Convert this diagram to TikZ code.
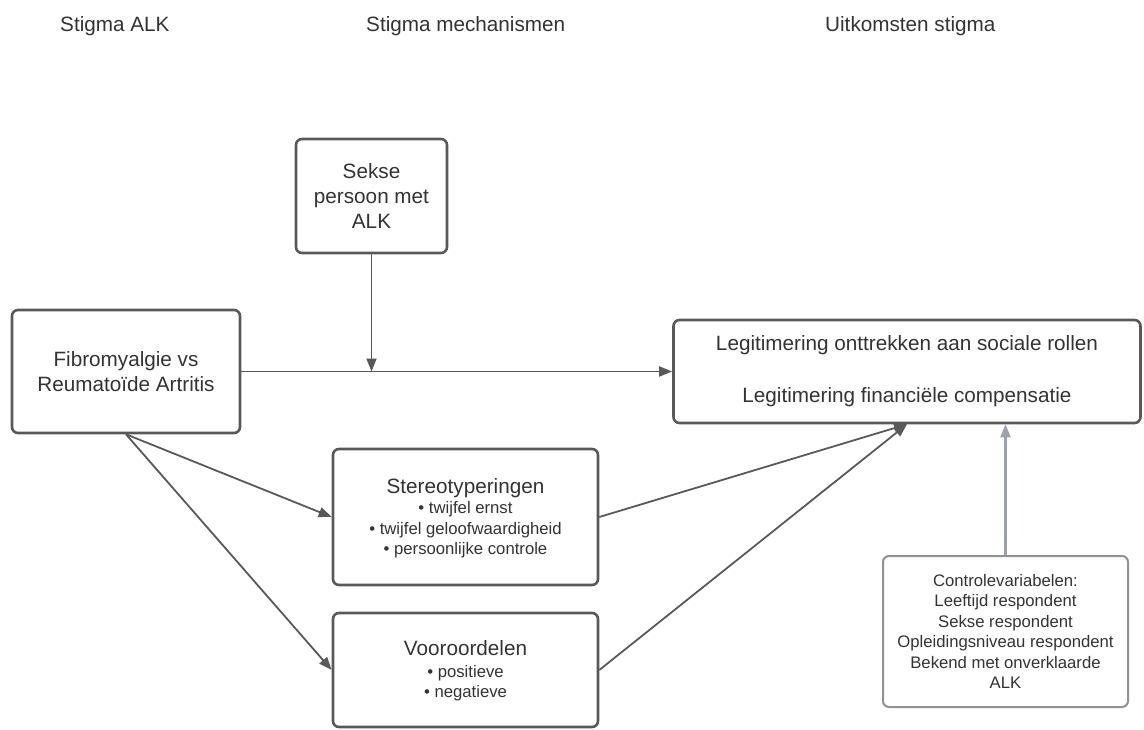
\documentclass[tikz,border=0pt]{standalone}
\usepackage{fontspec}
\setmainfont{Liberation Sans}
\usetikzlibrary{arrows.meta}
\definecolor{txt}{HTML}{333333}
\definecolor{edge}{HTML}{595959}
\definecolor{lgray}{HTML}{8E9196}
\definecolor{garrow}{HTML}{9DA2AA}
\begin{document}
\begin{tikzpicture}[x=1pt,y=-1pt,
  box/.style={draw=edge, line width=2.6pt, rounded corners=6pt, fill=white, text=txt, align=center, inner sep=0pt},
  big/.style={font=\fontsize{20.7}{25}\selectfont},
  small/.style={font=\fontsize{16.7}{20.5}\selectfont},
  head/.style={font=\fontsize{20.7}{25}\selectfont, text=txt, anchor=base west, inner sep=0pt},
  line/.style={big, text=txt, anchor=base, inner sep=0pt},
  sline/.style={small, text=txt, anchor=base, inner sep=0pt},
  conn/.style={draw=edge, line width=1.8pt, -{Triangle[length=13pt,width=10pt]}},
  gconn/.style={draw=garrow, line width=2.2pt, -{Triangle[length=13pt,width=10pt]}}]
\useasboundingbox (0,0) rectangle (1144,730);

% headers
\node[head] (h1) at (60,32) {Stigma ALK};
\node[head] (h2) at (366,32) {Stigma mechanismen};
\node[head] (h3) at (825,32) {Uitkomsten stigma};

% boxes
\node[box,big,minimum width=228pt,minimum height=123pt] (fib) at (126,371.5) {Fibromyalgie vs\\Reumatoïde Artritis};
\node[box,big,minimum width=151pt,minimum height=114pt] (sek) at (371.5,196) {Sekse\\persoon met\\ALK};
\node[box,big,minimum width=467pt,minimum height=103pt] (leg) at (907,371.5) {Legitimering onttrekken aan sociale rollen\\[27pt]Legitimering financiële compensatie};

\node[box,minimum width=265pt,minimum height=136pt] (st) at (465.5,517) {};
\node[line] (stT) at (465.5,493) {Stereotyperingen};
\node[sline] (st1) at (465.5,513.5) {• twijfel ernst};
\node[sline] (st2) at (465.5,534) {• twijfel geloofwaardigheid};
\node[sline] (st3) at (465.5,554.5) {• persoonlijke controle};

\node[box,minimum width=265pt,minimum height=114pt] (vo) at (465.5,670) {};
\node[line] (voT) at (465.5,655) {Vooroordelen};
\node[sline] (vo1) at (465.5,677) {• positieve};
\node[sline] (vo2) at (465.5,697) {• negatieve};

\node[box,draw=lgray,line width=2pt,small,minimum width=245pt,minimum height=151pt] (ctl) at (1005.5,631.5) {Controlevariabelen:\\Leeftijd respondent\\Sekse respondent\\Opleidingsniveau respondent\\Bekend met onverklaarde\\ALK};

% connectors
\coordinate (j) at (sek.south |- fib.east);
\coordinate (lt) at (leg.south -| ctl.north);
\draw[conn] (fib.east) -- (leg.west);
\draw[conn] (sek.south) -- (j);
\draw[conn] (fib.south) -- (st.west);
\draw[conn] (fib.south) -- (vo.west);
\draw[conn] (st.east) -- (leg.south);
\draw[conn] (vo.east) -- (leg.south);
\draw[gconn] (ctl.north) -- (lt);
\end{tikzpicture}
\end{document}
